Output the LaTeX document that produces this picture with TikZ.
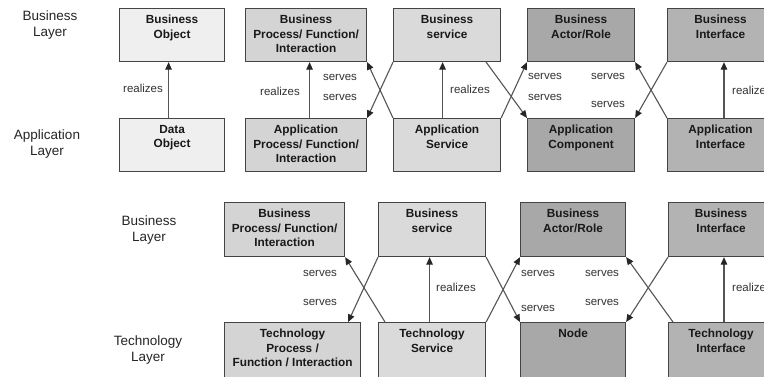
\documentclass[tikz,border=0pt]{standalone}
\usepackage{fontspec}
\setmainfont{Liberation Sans}
\usetikzlibrary{arrows.meta,calc}
\definecolor{edgegray}{HTML}{444444}
\definecolor{linkgray}{HTML}{555555}
\definecolor{fillA}{HTML}{EFEFEF}
\definecolor{fillB}{HTML}{D4D4D4}
\definecolor{fillC}{HTML}{DADADA}
\definecolor{fillD}{HTML}{A8A8A8}
\definecolor{fillE}{HTML}{B3B3B3}
\begin{document}
\begin{tikzpicture}[x=1pt,y=-1pt,
  elem/.style={draw=edgegray, line width=1.15pt, anchor=north west, inner sep=0pt, minimum height=53pt},
  elemtext/.style={anchor=north, align=center, inner sep=0pt, yshift=-7pt,
    font=\fontsize{11.8}{14.5}\selectfont\bfseries, text=black!90},
  layer/.style={align=center, inner sep=0pt, font=\fontsize{13.5}{16}\selectfont, text=black!85},
  rel/.style={inner sep=0pt, font=\fontsize{11.5}{14}\selectfont, text=black!80},
  link/.style={draw=linkgray, line width=1.1pt,
    -{Triangle[length=7.5pt,width=6.5pt,color=black!85]}},
]
\useasboundingbox (0,0) rectangle (764,376);
\clip (0,0) rectangle (764,376);
\fill[white] (0,0) rectangle (764,376);

% ---------- Business / Application ----------
\node[layer] (L1) at (50,25) {Business\\Layer};
\node[layer] (L2) at (47,144) {Application\\Layer};

\node[elem, fill=fillA, minimum width=105pt] (bo) at (119,8) {};
\node[elemtext] (bo-t) at (bo.north) {Business\\Object};
\node[elem, fill=fillB, minimum width=121pt] (bp) at (245,8) {};
\node[elemtext] (bp-t) at (bp.north) {Business\\Process/ Function/\\Interaction};
\node[elem, fill=fillC, minimum width=107pt] (bs) at (393,8) {};
\node[elemtext] (bs-t) at (bs.north) {Business\\service};
\node[elem, fill=fillD, minimum width=107pt] (ba) at (527,8) {};
\node[elemtext] (ba-t) at (ba.north) {Business\\Actor/Role};
\node[elem, fill=fillE, minimum width=106pt] (bi) at (667,8) {};
\node[elemtext] (bi-t) at (bi.north) {Business\\Interface};

\node[elem, fill=fillA, minimum width=105pt] (dobj) at (119,118) {};
\node[elemtext] (dobj-t) at (dobj.north) {Data\\Object};
\node[elem, fill=fillB, minimum width=121pt] (ap) at (245,118) {};
\node[elemtext] (ap-t) at (ap.north) {Application\\Process/ Function/\\Interaction};
\node[elem, fill=fillC, minimum width=107pt] (as) at (393,118) {};
\node[elemtext] (as-t) at (as.north) {Application\\Service};
\node[elem, fill=fillD, minimum width=107pt] (ac) at (527,118) {};
\node[elemtext] (ac-t) at (ac.north) {Application\\Component};
\node[elem, fill=fillE, minimum width=106pt] (ai) at (667,118) {};
\node[elemtext] (ai-t) at (ai.north) {Application\\Interface};

% realization
\draw[link] ($(dobj.north)+(-3.5,0)$) -- ($(bo.south)+(-3.5,0)$);
\draw[link] ($(ap.north)+(3.5,0)$) -- ($(bp.south)+(3.5,0)$);
\draw[link] ($(as.north)+(-4.5,0)$) -- ($(bs.south)+(-4.5,0)$);
\draw[link] ($(ai.north west)+(57,0)$) -- ($(bi.south west)+(57,0)$);

% serving
\draw[link] (as.north west) -- (bp.south east);
\draw[link] (bs.south west) -- (ap.north east);
\draw[link] ($(bs.south east)+(-15,0)$) -- (ac.north west);
\draw[link] (as.north east) -- (ba.south west);
\draw[link] (bi.south west) -- (ac.north east);
\draw[link] (ai.north west) -- (ba.south east);

\node[rel] (r1) at (143,88) {realizes};
\node[rel] (r2) at (280,91) {realizes};
\node[rel] (r3) at (470,89) {realizes};
\node[rel, anchor=west] (r4) at (732,90) {realizes};
\node[rel] (s1) at (340,77) {serves};
\node[rel] (s2) at (340,97) {serves};
\node[rel] (s3) at (545,76) {serves};
\node[rel] (s4) at (545,97) {serves};
\node[rel] (s5) at (608,76) {serves};
\node[rel] (s6) at (608,104) {serves};

% ---------- Business / Technology ----------
\node[layer] (L3) at (149,230) {Business\\Layer};
\node[layer] (L4) at (148,350) {Technology\\Layer};

\node[elem, fill=fillB, minimum width=120pt, minimum height=54pt] (bp2) at (224,202) {};
\node[elemtext] (bp2-t) at (bp2.north) {Business\\Process/ Function/\\Interaction};
\node[elem, fill=fillC, minimum width=107pt, minimum height=54pt] (bs2) at (378,202) {};
\node[elemtext] (bs2-t) at (bs2.north) {Business\\service};
\node[elem, fill=fillD, minimum width=105pt, minimum height=54pt] (ba2) at (520,202) {};
\node[elemtext] (ba2-t) at (ba2.north) {Business\\Actor/Role};
\node[elem, fill=fillE, minimum width=105pt, minimum height=54pt] (bi2) at (668,202) {};
\node[elemtext] (bi2-t) at (bi2.north) {Business\\Interface};

\node[elem, fill=fillB, minimum width=136pt, minimum height=63pt] (tp) at (224,322) {};
\node[elemtext] (tp-t) at (tp.north) {Technology\\Process /\\Function / Interaction};
\node[elem, fill=fillC, minimum width=107pt, minimum height=63pt] (ts) at (378,322) {};
\node[elemtext] (ts-t) at (ts.north) {Technology\\Service};
\node[elem, fill=fillD, minimum width=105pt, minimum height=63pt] (nd) at (520,322) {};
\node[elemtext] (nd-t) at (nd.north) {Node};
\node[elem, fill=fillE, minimum width=105pt, minimum height=63pt] (ti) at (668,322) {};
\node[elemtext] (ti-t) at (ti.north) {Technology\\Interface};

% realization
\draw[link] ($(ts.north)+(-2.5,0)$) -- ($(bs2.south)+(-2.5,0)$);
\draw[link] ($(ti.north west)+(56,0)$) -- ($(bi2.south west)+(56,0)$);

% serving
\draw[link] ($(ts.north west)+(7,0)$) -- (bp2.south east);
\draw[link] (bs2.south west) -- ($(tp.north east)+(-13,0)$);
\draw[link] (bs2.south east) -- (nd.north west);
\draw[link] (ts.north east) -- (ba2.south west);
\draw[link] (bi2.south west) -- (nd.north east);
\draw[link] ($(ti.north west)+(5,0)$) -- (ba2.south east);

\node[rel] (s7) at (320,273) {serves};
\node[rel] (s8) at (320,302) {serves};
\node[rel] (r5) at (456,287) {realizes};
\node[rel] (s9) at (538,273) {serves};
\node[rel] (s10) at (538,308) {serves};
\node[rel] (s11) at (602,273) {serves};
\node[rel] (s12) at (602,302) {serves};
\node[rel, anchor=west] (r6) at (732,287) {realizes};
\end{tikzpicture}
\end{document}
